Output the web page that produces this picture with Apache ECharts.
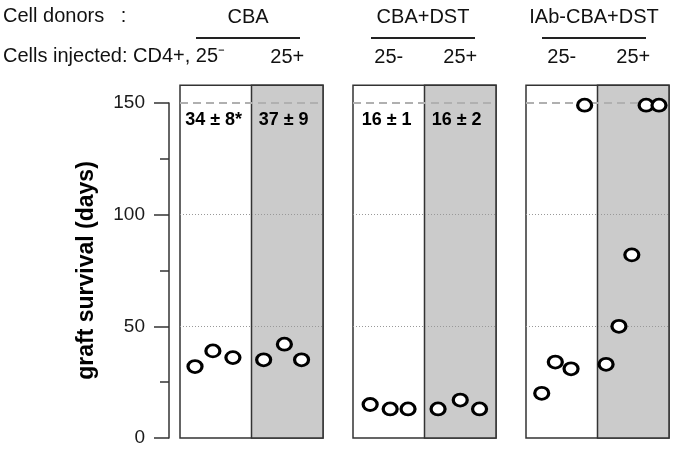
<!DOCTYPE html>
<html>
<head>
  <meta charset="utf-8">
  <title>Graft survival</title>
  <style>
    html, body { margin: 0; padding: 0; background: #fff; }
    #chart { width: 675px; height: 450px; }
  </style>
  <script src="https://cdn.jsdelivr.net/npm/echarts@6/dist/echarts.min.js"></script>
</head>
<body>
  <div id="chart"></div>
  <script>
    // donor groups and the header labels
    var donors = ['CBA', 'CBA+DST', 'IAb-CBA+DST'];
    var injected = [['25\u207B', '25+'], ['25-', '25+'], ['25-', '25+']];
    var yTicks = [0, 50, 100, 150];

    // graft survival (days) per animal; x is just the jitter inside a half (0-1 = 25-, 1-2 = 25+)
    var cbaNegX = [0.21, 0.46, 0.74];
    var cbaNegY = [32, 39, 36];
    var cbaPosX = [1.17, 1.46, 1.70];
    var cbaPosY = [35, 42, 35];
    var dstNegX = [0.24, 0.52, 0.77];
    var dstNegY = [15, 13, 13];
    var dstPosX = [1.19, 1.50, 1.77];
    var dstPosY = [13, 17, 13];
    var iabNegX = [0.22, 0.41, 0.63, 0.82];
    var iabNegY = [20, 34, 31, 149];
    var iabPosX = [1.12, 1.30, 1.48, 1.68, 1.86];
    var iabPosY = [33, 50, 82, 149, 149];

    // mean ± sd written at the top of the panels
    var meanText = [['34 \u00B1 8*', '37 \u00B1 9'], ['16 \u00B1 1', '16 \u00B1 2'], null];

    var panels = [
      { x: cbaNegX.concat(cbaPosX), y: cbaNegY.concat(cbaPosY) },
      { x: dstNegX.concat(dstPosX), y: dstNegY.concat(dstPosY) },
      { x: iabNegX.concat(iabPosX), y: iabNegY.concat(iabPosY) }
    ];

    var FONT = 'Liberation Sans, Arial, sans-serif';
    var panelLeft = [180, 353, 526];
    var panelW = 143;
    var yTop = 158;

    var grids = [{ left: 169, top: 103, width: 2, height: 335 }];
    var xAxes = [{ gridIndex: 0, show: false, min: 0, max: 1 }];
    var yAxes = [{
      gridIndex: 0, min: 0, max: 150, interval: 50,
      axisLine: { show: true, lineStyle: { color: '#333', width: 1.5 } },
      axisTick: { show: true, length: 15, lineStyle: { color: '#333', width: 1.5 } },
      minorTick: { show: true, splitNumber: 2, length: 9, lineStyle: { color: '#333', width: 1.5 } },
      splitLine: { show: false },
      axisLabel: {
        margin: 24, fontSize: 19, color: '#1a1a1a', fontFamily: FONT,
        formatter: function (v) { return yTicks.indexOf(v) >= 0 ? String(v) : ''; }
      },
      name: 'graft survival (days)', nameLocation: 'middle', nameGap: 71,
      nameTextStyle: { fontSize: 23, fontWeight: 'bold', color: '#000', fontFamily: FONT }
    }];
    var series = [];

    panels.forEach(function (p, i) {
      var g = i + 1;
      grids.push({ left: panelLeft[i], top: 438 - yTop * 335 / 150, height: yTop * 335 / 150, width: panelW });
      xAxes.push({ gridIndex: g, show: false, min: 0, max: 2 });
      yAxes.push({ gridIndex: g, show: false, min: 0, max: yTop });

      // panel frame and grey 25+ half
      series.push({
        type: 'scatter', xAxisIndex: g, yAxisIndex: g, data: [], z: 1, silent: true,
        markArea: {
          silent: true,
          data: [
            [{ coord: [0, 0], itemStyle: { color: '#fff', borderColor: '#333', borderWidth: 1.5 } }, { coord: [2, yTop] }],
            [{ coord: [1, 0], itemStyle: { color: '#cbcbcb', borderColor: '#333', borderWidth: 1.5 } }, { coord: [2, yTop] }]
          ]
        }
      });
      // reference lines
      var dotted = { color: '#999', type: [1, 2], width: 1 };
      series.push({
        type: 'scatter', xAxisIndex: g, yAxisIndex: g, data: [], z: 2, silent: true,
        markLine: {
          silent: true, symbol: 'none', label: { show: false },
          data: [
            { yAxis: 50, lineStyle: dotted },
            { yAxis: 100, lineStyle: dotted },
            { yAxis: 150, lineStyle: { color: '#b0b0b0', type: [8, 5], width: 2 } }
          ]
        }
      });
      // animals
      series.push({
        type: 'scatter', xAxisIndex: g, yAxisIndex: g, z: 5,
        symbol: 'circle', symbolSize: [14, 12],
        itemStyle: { color: '#fff', borderColor: '#000', borderWidth: 3, opacity: 1 },
        data: p.x.map(function (x, k) { return [x, p.y[k]]; })
      });
      // mean labels
      if (meanText[i]) {
        series.push({
          type: 'scatter', xAxisIndex: g, yAxisIndex: g, z: 6, symbolSize: 0, silent: true,
          itemStyle: { color: 'rgba(0,0,0,0)', opacity: 1 },
          data: [[0.47, 142.5, meanText[i][0]], [1.45, 142.5, meanText[i][1]]],
          label: {
            show: true, position: 'inside', fontSize: 18, fontWeight: 'bold', color: '#000', fontFamily: FONT,
            textBorderWidth: 0, textBorderColor: 'transparent',
            formatter: function (d) { return d.value[2]; }
          }
        });
      }
    });

    // header rows
    var headerCenters = [248, 423, 594];
    var graphic = [
      { type: 'text', left: 3, top: 6, style: { text: 'Cell donors   :', font: '20px ' + FONT, fill: '#111' } },
      { type: 'text', left: 3, top: 46, style: { text: 'Cells injected: CD4+, ' + injected[0][0], font: '20px ' + FONT, fill: '#111' } }
    ];
    donors.forEach(function (d, i) {
      var c = headerCenters[i];
      graphic.push({ type: 'text', x: c, y: 17, style: { text: d, font: '20px ' + FONT, fill: '#111', align: 'center', verticalAlign: 'middle' } });
      graphic.push({ type: 'line', shape: { x1: c - 52, y1: 38, x2: c + 52, y2: 38 }, style: { stroke: '#222', lineWidth: 2 } });
      var halfC = panelLeft[i] + panelW / 4;
      if (i > 0) {
        graphic.push({ type: 'text', x: halfC, y: 57, style: { text: injected[i][0], font: '20px ' + FONT, fill: '#111', align: 'center', verticalAlign: 'middle' } });
      }
      graphic.push({ type: 'text', x: panelLeft[i] + panelW * 3 / 4, y: 57, style: { text: injected[i][1], font: '20px ' + FONT, fill: '#111', align: 'center', verticalAlign: 'middle' } });
    });

    var chart = echarts.init(document.getElementById('chart'));
    chart.setOption({
      animation: false,
      backgroundColor: '#fff',
      grid: grids,
      xAxis: xAxes,
      yAxis: yAxes,
      series: series,
      graphic: graphic
    });
  </script>
</body>
</html>
